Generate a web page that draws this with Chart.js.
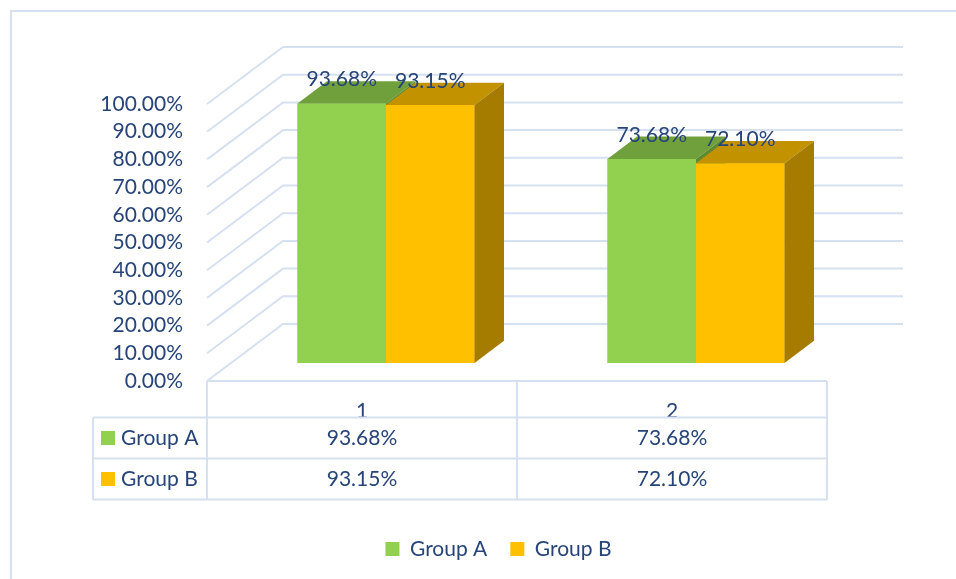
<!DOCTYPE html>
<html>
<head>
<meta charset="utf-8">
<script src="https://cdn.jsdelivr.net/npm/chart.js@4.4.0/dist/chart.umd.min.js"></script>
<style>
  html, body { margin: 0; padding: 0; background: #fff; }
  #wrap { width: 956px; height: 579px; }
</style>
</head>
<body>
<div id="wrap"><canvas id="myChart" width="956" height="579"></canvas></div>
<script>
const categories = ["1", "2"];
const groupA = [93.68, 73.68];
const groupB = [93.15, 72.10];
const seriesNames = ["Group A", "Group B"];
const yMax = 100;
const yStep = 10;

const textColor = "#264478";
const lineColor = "#d5e0f1";
const fontName = "Lato";

// offsets used for the fake 3d look
const wallDepth = { x: 76, y: -57 };
const barShift = { x: 24, y: -18 };
const barDepth = { x: 29.5, y: -22.3 };
const legendShift = 39;
const faceColors = [
  { front: "#92d050", top: "#70a03c", side: "#5e8a30" },
  { front: "#ffc000", top: "#c39200", side: "#a67c00" },
];

function pct(v) {
  return v.toFixed(2) + "%";
}

const threeD = {
  id: "threeD",
  afterLayout(chart) {
    // legend sits a bit right of the plot centre
    chart.legend.left += legendShift;
    chart.legend.right += legendShift;
  },
  beforeDatasetsDraw(chart) {
    const { ctx, chartArea, scales } = chart;
    const y = scales.y;
    ctx.save();
    ctx.strokeStyle = lineColor;
    ctx.lineWidth = 2;
    y.ticks.forEach((t) => {
      const py = y.getPixelForValue(t.value);
      ctx.beginPath();
      ctx.moveTo(chartArea.left, py);
      ctx.lineTo(chartArea.left + wallDepth.x, py + wallDepth.y);
      ctx.lineTo(chartArea.right + wallDepth.x, py + wallDepth.y);
      ctx.stroke();
    });
    ctx.restore();
    // move the bars back into the floor
    ctx.save();
    ctx.translate(barShift.x, barShift.y);
  },
  afterDatasetsDraw(chart) {
    const { ctx } = chart;
    const metas = chart.data.datasets.map((d, i) => chart.getDatasetMeta(i));
    categories.forEach((c, j) => {
      metas.forEach((meta, i) => {
        const el = meta.data[j];
        const col = faceColors[i];
        const l = el.x - el.width / 2;
        const r = el.x + el.width / 2;
        el.draw(ctx);
        ctx.fillStyle = col.top;
        ctx.beginPath();
        ctx.moveTo(l, el.y);
        ctx.lineTo(r, el.y);
        ctx.lineTo(r + barDepth.x, el.y + barDepth.y);
        ctx.lineTo(l + barDepth.x, el.y + barDepth.y);
        ctx.closePath();
        ctx.fill();
        ctx.fillStyle = col.side;
        ctx.beginPath();
        ctx.moveTo(r, el.y);
        ctx.lineTo(r + barDepth.x, el.y + barDepth.y);
        ctx.lineTo(r + barDepth.x, el.base + barDepth.y);
        ctx.lineTo(r, el.base);
        ctx.closePath();
        ctx.fill();
      });
    });
    ctx.fillStyle = textColor;
    ctx.font = "21px " + fontName;
    ctx.textAlign = "center";
    ctx.textBaseline = "middle";
    metas.forEach((meta, i) => {
      meta.data.forEach((el, j) => {
        ctx.fillText(pct(chart.data.datasets[i].data[j]), el.x, el.y - 24);
      });
    });
    ctx.restore();
  },
  afterDraw(chart) {
    const { ctx, chartArea: ca, scales } = chart;
    const x = scales.x;
    const rows = [ca.bottom, ca.bottom + 36.5, ca.bottom + 77.5, ca.bottom + 118.5];
    const tableLeft = 93;
    const cols = [ca.left];
    for (let j = 1; j < categories.length; j++) {
      cols.push((x.getPixelForValue(j - 1) + x.getPixelForValue(j)) / 2);
    }
    cols.push(ca.right);

    ctx.save();
    ctx.strokeStyle = lineColor;
    ctx.lineWidth = 2;
    ctx.beginPath();
    ctx.moveTo(ca.left, rows[0]);
    ctx.lineTo(ca.right, rows[0]);
    for (let k = 1; k < rows.length; k++) {
      ctx.moveTo(tableLeft, rows[k]);
      ctx.lineTo(ca.right, rows[k]);
    }
    ctx.moveTo(tableLeft, rows[1]);
    ctx.lineTo(tableLeft, rows[3]);
    cols.forEach((cx) => {
      ctx.moveTo(cx, rows[0]);
      ctx.lineTo(cx, rows[3]);
    });
    // outer chart border (cut by the picture edge)
    ctx.moveTo(11, 579);
    ctx.lineTo(11, 11);
    ctx.lineTo(956, 11);
    ctx.stroke();

    const series = [groupA, groupB];
    ctx.font = "21px " + fontName;
    ctx.textBaseline = "middle";
    series.forEach((vals, i) => {
      const cy = (rows[i + 1] + rows[i + 2]) / 2;
      ctx.fillStyle = faceColors[i].front;
      ctx.fillRect(101, cy - 7, 14, 14);
      ctx.fillStyle = textColor;
      ctx.textAlign = "left";
      ctx.fillText(seriesNames[i], 121, cy);
      ctx.textAlign = "center";
      vals.forEach((v, j) => {
        ctx.fillText(pct(v), x.getPixelForValue(j), cy);
      });
    });
    ctx.restore();
  },
};

const ctx = document.getElementById("myChart").getContext("2d");
const chart = new Chart(ctx, {
  type: "bar",
  data: {
    labels: categories,
    datasets: [
      { label: seriesNames[0], data: groupA, backgroundColor: faceColors[0].front, borderWidth: 0 },
      { label: seriesNames[1], data: groupB, backgroundColor: faceColors[1].front, borderWidth: 0 },
    ],
  },
  options: {
    responsive: false,
    animation: false,
    layout: { padding: { top: 104, left: 92, right: 129, bottom: 9.5 } },
    datasets: { bar: { categoryPercentage: 0.571, barPercentage: 1 } },
    scales: {
      x: {
        grid: { display: false, drawTicks: false },
        border: { display: false },
        ticks: { color: textColor, padding: 18, font: { family: fontName, size: 21 } },
        afterFit(scale) { scale.height = 134.5; },
      },
      y: {
        min: 0,
        max: yMax,
        grid: { display: false, drawTicks: false },
        border: { display: false },
        ticks: {
          stepSize: yStep,
          autoSkip: false,
          padding: 24,
          color: textColor,
          font: { family: fontName, size: 21 },
          callback: (v) => pct(v),
        },
        afterFit(scale) { scale.width = 115; },
      },
    },
    plugins: {
      tooltip: { enabled: false },
      legend: {
        position: "bottom",
        labels: {
          boxWidth: 14,
          boxHeight: 14,
          padding: 23,
          color: textColor,
          font: { family: fontName, size: 21 },
        },
      },
    },
  },
  plugins: [threeD],
});
</script>
</body>
</html>
